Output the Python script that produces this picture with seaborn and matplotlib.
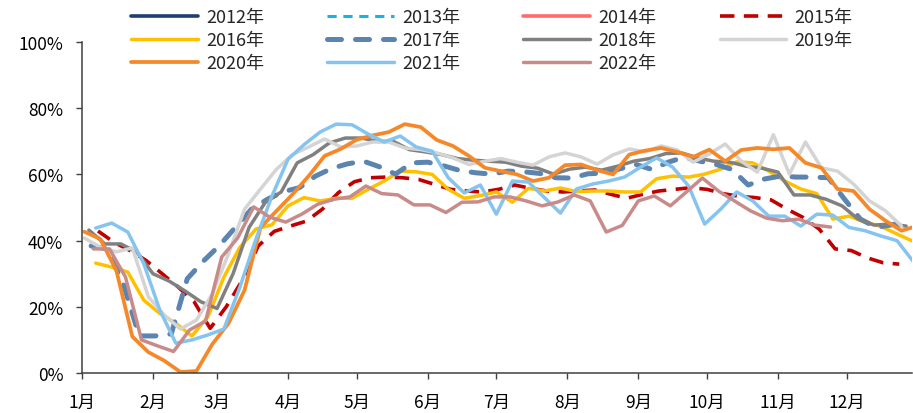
import numpy as np
import pandas as pd
import seaborn as sns
import matplotlib.pyplot as plt
from matplotlib.ticker import PercentFormatter

# weekly values (%), week 1 .. end of year
rate_2012 = []
rate_2013 = []
rate_2014 = []
rate_2015 = [42.9, 39.5, 37.0, 34.0, 30.0, 26.0, 21.5, 13.5, 20.0, 28.0, 38.4, 42.8, 44.4,
             45.9, 49.5, 54.5, 57.8, 59.0, 59.2, 59.0, 58.5, 57.0, 55.5, 55.0, 54.7, 55.5,
             56.8, 55.8, 55.0, 54.7, 55.0, 55.3, 54.0, 52.8, 54.0, 55.0, 55.5, 56.0, 55.5,
             54.2, 53.4, 53.0, 52.3, 49.5, 47.0, 43.5, 37.5, 37.0, 34.8, 33.3, 32.9]
rate_2016 = [33.2, 32.0, 30.5, 22.0, 18.0, 15.0, 11.2, 17.0, 29.0, 38.0, 43.5, 44.8, 50.5,
             53.0, 52.0, 52.8, 52.8, 55.5, 58.0, 61.0, 60.8, 60.0, 55.5, 52.8, 53.6, 54.7,
             51.6, 55.8, 55.0, 55.9, 54.8, 55.0, 55.0, 54.7, 54.7, 58.7, 59.5, 59.2, 60.1,
             61.6, 63.8, 63.5, 61.0, 58.0, 55.6, 54.2, 46.5, 47.4, 45.6, 44.3, 42.0, 39.8]
rate_2017 = [38.4, 37.5, 27.0, 11.2, 11.2, 11.8, 28.5, 33.8, 38.5, 44.0, 49.5, 52.5, 54.8,
             56.0, 59.5, 61.8, 63.2, 64.0, 62.3, 60.1, 63.5, 63.7, 62.6, 61.2, 60.5, 60.1,
             61.0, 60.8, 60.3, 59.0, 58.9, 60.2, 60.4, 61.7, 63.0, 61.5, 63.7, 65.2, 64.0,
             63.0, 61.5, 56.8, 58.6, 59.5, 59.2, 59.2, 59.0, 52.6, 46.5, 44.0, 44.8, 45.8]
rate_2018 = [43.2, 39.0, 39.0, 36.5, 30.0, 27.8, 24.8, 21.5, 19.5, 30.0, 44.0, 51.5, 54.7,
             63.5, 66.0, 69.5, 71.0, 71.0, 70.0, 70.0, 67.5, 66.8, 66.0, 64.8, 64.3, 64.0,
             63.7, 62.5, 61.9, 60.1, 61.6, 62.2, 61.3, 62.5, 64.0, 64.8, 66.3, 66.5, 65.0,
             64.0, 63.7, 62.5, 61.9, 60.7, 53.8, 53.8, 52.5, 50.5, 46.5, 44.7, 45.0, 44.4]
rate_2019 = [40.8, 38.0, 36.6, 37.8, 23.0, 17.5, 13.3, 16.0, 24.0, 36.0, 49.5, 55.6, 61.6,
             66.0, 68.3, 70.7, 68.3, 68.6, 69.8, 69.8, 68.0, 67.5, 66.5, 65.0, 63.0, 64.0,
             64.8, 63.7, 62.8, 65.3, 66.5, 65.3, 63.1, 65.9, 67.7, 66.8, 68.6, 67.4, 63.7,
             66.2, 69.2, 64.0, 60.7, 72.0, 60.1, 69.8, 62.0, 61.0, 57.1, 52.0, 49.0, 44.4]
rate_2020 = [42.7, 40.5, 31.0, 11.0, 6.3, 3.7, 0.3, 0.6, 8.8, 15.0, 25.0, 44.0, 49.0,
             54.0, 59.5, 65.6, 67.7, 70.5, 71.8, 72.8, 75.2, 74.3, 70.4, 68.6, 65.6, 62.0,
             61.0, 60.0, 58.0, 59.0, 62.8, 63.0, 61.3, 60.0, 66.0, 67.2, 68.0, 66.8, 65.3,
             67.5, 64.0, 67.4, 68.0, 67.6, 68.0, 63.5, 62.0, 55.6, 55.0, 49.5, 46.0, 43.0, 44.5]
rate_2021 = [43.8, 45.3, 42.6, 33.0, 19.0, 9.0, 10.0, 11.5, 13.3, 26.0, 40.5, 53.5, 64.6,
             69.0, 72.8, 75.2, 75.0, 72.2, 69.8, 71.6, 68.3, 67.0, 59.0, 54.4, 56.8, 48.0,
             58.0, 57.7, 53.0, 48.3, 55.6, 57.1, 58.0, 59.2, 62.2, 65.0, 62.2, 56.5, 45.0,
             49.5, 54.7, 52.0, 47.4, 47.4, 44.4, 48.0, 47.7, 44.0, 43.0, 41.4, 40.0, 33.8]
rate_2022 = [37.5, 37.5, 29.0, 10.0, 8.2, 6.5, 13.0, 15.7, 35.0, 40.8, 50.2, 47.1, 45.6,
             48.0, 51.0, 52.5, 53.2, 56.5, 54.2, 53.8, 50.8, 50.8, 48.5, 51.6, 51.7, 53.2,
             53.2, 52.0, 50.5, 51.7, 53.8, 52.0, 42.6, 44.6, 52.0, 53.5, 50.5, 54.7, 58.9,
             55.0, 52.0, 49.0, 46.8, 46.0, 46.5, 44.7, 44.1]

years = [2012, 2013, 2014, 2015, 2016, 2017, 2018, 2019, 2020, 2021, 2022]
series = {2012: rate_2012, 2013: rate_2013, 2014: rate_2014, 2015: rate_2015,
          2016: rate_2016, 2017: rate_2017, 2018: rate_2018, 2019: rate_2019,
          2020: rate_2020, 2021: rate_2021, 2022: rate_2022}
# day of year of each year's first weekly reading
first_day = {2015: 7, 2016: 6, 2017: 4, 2018: 3, 2019: 1, 2020: 1, 2021: 6, 2022: 5}

month_start = [0, 31, 59, 90, 120, 151, 181, 212, 243, 273, 304, 334]
month_labels = [f"{m}月" for m in range(1, 13)]

styles = {
    2012: dict(color="#1F3F73", lw=2.6),
    2013: dict(color="#1AB0EC", lw=2.2, linestyle=(0, (3, 2.2))),
    2014: dict(color="#FF6B6B", lw=2.6),
    2015: dict(color="#C00000", lw=2.6, linestyle=(0, (4, 2.6))),
    2016: dict(color="#FFC000", lw=2.5),
    2017: dict(color="#5B84B1", lw=3.6, linestyle=(0, (2.8, 2.8)), dash_capstyle="round"),
    2018: dict(color="#808080", lw=2.5),
    2019: dict(color="#D4D4D4", lw=2.5),
    2020: dict(color="#F5892A", lw=2.7),
    2021: dict(color="#86C4F0", lw=2.5),
    2022: dict(color="#C98A8A", lw=2.5),
}

sns.set_theme(style="ticks")
plt.rcParams["font.family"] = ["Noto Sans CJK SC", "DejaVu Sans"]

fig, ax = plt.subplots(figsize=(9.13, 4.14), dpi=100)
fig.subplots_adjust(left=0.0898, right=0.999, bottom=0.0966, top=0.896)

handles = {}
for year in years:
    vals = series[year]
    if not vals:
        line, = ax.plot([], [], label=f"{year}年", **styles[year])
        handles[year] = line
        continue
    df = pd.DataFrame({"day": first_day[year] + 7 * np.arange(len(vals)), "rate": vals})
    sns.lineplot(data=df, x="day", y="rate", ax=ax, label=f"{year}年", **styles[year])
    handles[year] = ax.lines[-1]

ax.set_xlim(0, 362.6)
ax.set_ylim(0, 100)
ax.set_xticks(month_start)
ax.set_xticklabels(month_labels)
ax.set_yticks([0, 20, 40, 60, 80, 100])
ax.yaxis.set_major_formatter(PercentFormatter(100, decimals=0))
ax.set_xlabel("")
ax.set_ylabel("")

sns.despine(ax=ax)
for side in ["left", "bottom"]:
    ax.spines[side].set_color("#404040")
    ax.spines[side].set_linewidth(1.1)
ax.tick_params(axis="both", direction="out", length=4.5, width=1, color="#404040",
               labelsize=12.5, labelcolor="black")
ax.tick_params(axis="x", pad=10)
ax.tick_params(axis="y", pad=9)

# legend: 4 columns, filled row by row
order = [2012, 2016, 2020, 2013, 2017, 2021, 2014, 2018, 2022, 2015, 2019]
fig.legend([handles[y] for y in order], [f"{y}年" for y in order],
           loc="upper left", bbox_to_anchor=(0.1435, 0.978), ncol=4, frameon=False,
           fontsize=13, handlelength=3.7, handletextpad=0.45, columnspacing=3.5,
           labelspacing=0.28, borderpad=0, borderaxespad=0)
if ax.get_legend() is not None:
    ax.get_legend().remove()

fig.savefig("out.png", dpi=100)
